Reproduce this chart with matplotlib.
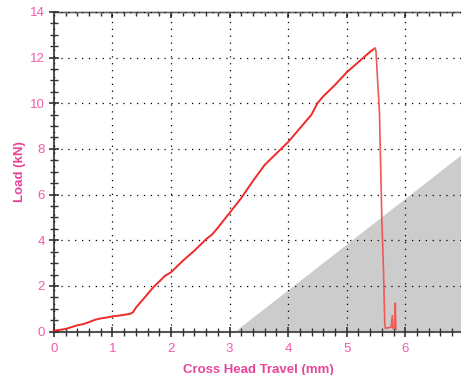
import matplotlib.pyplot as plt
from matplotlib.ticker import MultipleLocator

# load vs travel readings (mm, kN)
travel = [0.0, 0.1, 0.2, 0.3, 0.4, 0.5, 0.6, 0.7, 0.8, 0.9, 1.0, 1.1, 1.2, 1.3,
          1.35, 1.4, 1.5, 1.6, 1.7, 1.8, 1.9, 2.0, 2.2, 2.4, 2.6, 2.7, 2.8, 3.0,
          3.2, 3.4, 3.6, 3.8, 4.0, 4.2, 4.4, 4.5, 4.6, 4.8, 5.0, 5.2, 5.4, 5.48]
load = [0.05, 0.08, 0.12, 0.2, 0.28, 0.33, 0.42, 0.52, 0.58, 0.62, 0.67, 0.70,
        0.74, 0.78, 0.85, 1.05, 1.35, 1.65, 1.95, 2.2, 2.45, 2.6, 3.1, 3.55,
        4.05, 4.25, 4.55, 5.2, 5.85, 6.6, 7.3, 7.8, 8.3, 8.9, 9.5, 10.0, 10.3,
        10.8, 11.35, 11.8, 12.25, 12.4]

# after failure
drop_travel = [5.48, 5.5, 5.56, 5.6, 5.63, 5.65, 5.66, 5.72, 5.76, 5.78, 5.79,
               5.82, 5.83, 5.84]
drop_load = [12.4, 12.3, 9.6, 5.0, 2.6, 0.4, 0.15, 0.18, 0.2, 0.7, 0.15, 0.2,
             1.25, 0.1]

# shaded zone corners
zone_x = [3.1, 7.0, 7.0]
zone_y = [0.0, 7.8, 0.0]

x_ticks = [0, 1, 2, 3, 4, 5, 6]
y_ticks = [0, 2, 4, 6, 8, 10, 12, 14]

pink = "#e8449a"
tick_pink = "#f25aad"
spine_col = "#555555"

plt.rcParams["font.family"] = ["Liberation Sans", "DejaVu Sans"]

fig = plt.figure(figsize=(4.61, 3.75), dpi=100)
ax = fig.add_axes([0.117, 0.1155, 0.889, 0.853])

ax.fill(zone_x, zone_y, color="#cccccc", lw=0, zorder=1)
ax.plot(travel, load, color="#ee2a2a", lw=1.4, zorder=3)
ax.plot(drop_travel, drop_load, color="#f05858", lw=1.2, zorder=3)

ax.set_xlim(0, 7)
ax.set_ylim(0, 14)
ax.set_xticks(x_ticks)
ax.set_yticks(y_ticks)
ax.xaxis.set_minor_locator(MultipleLocator(0.2))
ax.yaxis.set_minor_locator(MultipleLocator(0.5))

ax.grid(True, which="major", color="black", linestyle=(0, (1, 4.5)), lw=0.9)
ax.set_axisbelow(False)

for side in ["left", "bottom"]:
    ax.spines[side].set_color(spine_col)
    ax.spines[side].set_linewidth(1.5)
ax.spines["top"].set_color("#666666")
ax.spines["top"].set_linewidth(1.0)
ax.spines["right"].set_visible(False)

ax.tick_params(which="both", direction="inout", color="#333333",
               top=False, right=False, labelcolor=tick_pink, labelsize=9.5)
ax.tick_params(which="major", length=7, width=1.2)
ax.tick_params(which="minor", length=6, width=1.0)
ax.tick_params(axis="y", pad=3)
ax.tick_params(axis="x", pad=5)

# top edge carries inward ticks only
top = ax.secondary_xaxis("top")
top.set_xticks(x_ticks)
top.xaxis.set_minor_locator(MultipleLocator(0.2))
top.tick_params(which="both", direction="in", color="#333333", labeltop=False)
top.tick_params(which="major", length=4, width=1.2)
top.tick_params(which="minor", length=3, width=1.0)
top.spines["top"].set_color("#666666")
top.spines["top"].set_linewidth(1.0)

ax.set_xlabel("Cross Head Travel (mm)", color=pink, fontsize=9.5,
              fontweight="bold", labelpad=6)
ax.set_ylabel("Load (kN)", color=pink, fontsize=9.5, fontweight="bold",
              labelpad=3)

fig.savefig("out.png", dpi=100)
